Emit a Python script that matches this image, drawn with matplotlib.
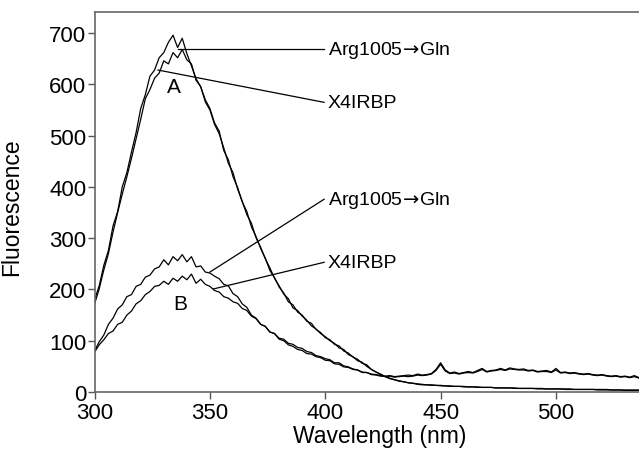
import numpy as np
import matplotlib
matplotlib.use("Agg")
import matplotlib.pyplot as plt

plt.rcParams['font.family'] = ['Liberation Sans', 'DejaVu Sans']

# wavelength grid (nm), 2 nm steps
wavelength = np.arange(300, 537, 2)

# curve A, Arg1005->Gln
a_arg = [180, 207, 247, 276, 324, 352, 400, 428, 468, 506,
         553, 580, 616, 628, 652, 662, 682, 696, 672, 690,
         660, 636, 611, 595, 570, 553, 525, 509, 471, 453,
         420, 399, 371, 352, 322, 303, 280, 261, 237, 223,
         205, 193, 176, 170, 156, 150, 138, 134, 122, 116,
         106, 102, 93, 90, 80, 76, 68, 64, 56, 53,
         44, 39, 34, 30, 27, 24, 22, 20, 18, 17,
         15, 14, 14, 13, 13, 12, 12, 11, 11, 11,
         10, 10, 10, 9, 9, 9, 9, 8, 8, 8,
         8, 8, 7, 7, 7, 7, 7, 7, 6, 6,
         6, 6, 6, 6, 5, 5, 5, 5, 5, 5,
         5, 5, 4, 4, 4, 4, 4, 4, 4]

# curve A, X4IRBP
a_x4 = [172, 201, 238, 270, 312, 350, 386, 420, 456, 494,
        532, 572, 590, 612, 622, 646, 640, 662, 652, 668,
        648, 640, 608, 596, 566, 550, 522, 504, 476, 446,
        428, 396, 372, 346, 329, 301, 282, 260, 242, 222,
        207, 191, 182, 164, 159, 148, 140, 129, 123, 114,
        108, 100, 95, 86, 83, 73, 69, 61, 58, 50,
        44, 39, 35, 30, 26, 24, 21, 20, 18, 17,
        16, 15, 14, 14, 13, 13, 12, 12, 11, 11,
        11, 10, 10, 10, 9, 9, 9, 8, 8, 8,
        8, 7, 7, 7, 7, 7, 6, 6, 6, 6,
        6, 6, 5, 5, 5, 5, 5, 5, 5, 4,
        4, 4, 4, 4, 4, 3, 3, 3, 3]

# curve B, Arg1005->Gln
b_arg = [80, 98, 111, 132, 144, 162, 170, 186, 190, 206,
         210, 224, 228, 240, 244, 258, 248, 264, 256, 268,
         254, 264, 244, 246, 234, 232, 226, 221, 210, 207,
         192, 186, 172, 165, 150, 144, 132, 128, 117, 114,
         105, 103, 95, 93, 87, 85, 79, 77, 71, 69,
         65, 63, 57, 57, 51, 49, 45, 43, 39, 38,
         34, 33, 31, 31, 32, 30, 31, 32, 33, 32,
         35, 33, 34, 36, 44, 57, 43, 37, 39, 36,
         38, 40, 38, 42, 46, 40, 42, 43, 46, 43,
         47, 45, 44, 45, 42, 43, 40, 41, 42, 39,
         46, 38, 39, 37, 38, 36, 35, 36, 34, 33,
         34, 32, 31, 32, 30, 31, 29, 32, 28]

# curve B, X4IRBP
b_x4 = [78, 92, 102, 114, 119, 132, 136, 150, 158, 172,
        178, 190, 196, 206, 208, 216, 210, 222, 216, 226,
        219, 230, 212, 220, 210, 206, 198, 195, 186, 183,
        176, 173, 163, 159, 148, 143, 132, 128, 117, 114,
        103, 100, 92, 89, 83, 81, 75, 74, 69, 67,
        62, 61, 55, 54, 49, 48, 44, 43, 38, 38,
        35, 34, 32, 30, 31, 29, 30, 31, 30, 31,
        33, 32, 33, 35, 42, 54, 41, 36, 37, 35,
        37, 38, 37, 40, 44, 39, 41, 42, 44, 42,
        45, 44, 43, 43, 41, 42, 39, 40, 40, 38,
        43, 37, 38, 36, 37, 35, 34, 35, 33, 32,
        33, 31, 30, 31, 29, 30, 28, 30, 27]

fig = plt.figure(figsize=(6.39, 4.52), dpi=100)
ax = fig.add_axes([0.148, 0.1305, 0.852, 0.8405])

for series in (a_arg, a_x4, b_arg, b_x4):
    ax.plot(wavelength, series, color='black', lw=0.9)

ax.set_xlim(300, 536)
ax.set_ylim(0, 741)
ax.set_xticks([300, 350, 400, 450, 500])
ax.set_yticks(range(0, 701, 100))
ax.tick_params(labelsize=16, length=5, width=1, color='#555555')
ax.tick_params(axis='x', pad=2)
ax.tick_params(axis='y', pad=1)

for side in ('left', 'bottom', 'top'):
    ax.spines[side].set_color('#666666')
    ax.spines[side].set_linewidth(1.2)
ax.spines['right'].set_visible(False)

ax.set_xlabel('Wavelength (nm)', fontsize=16.5)
ax.xaxis.set_label_coords(0.524, -0.085)
ax.set_ylabel('Fluorescence', fontsize=16.5)
ax.yaxis.set_label_coords(-0.131, 0.49)

# labels with leader lines: (text, text xy, curve xy)
arg_label = 'Arg1005$\\!\\rightarrow\\!$Gln'
labels = [
    (arg_label, (401, 669), (336, 669)),
    ('X4IRBP', (401, 565), (327.5, 628)),
    (arg_label, (401, 376), (350, 234)),
    ('X4IRBP', (401, 253), (351.5, 201)),
]
for text, (tx, ty), (cx, cy) in labels:
    ax.plot([cx, tx - 1.5], [cy, ty], color='black', lw=0.9)
    ax.text(tx, ty, text, fontsize=14, ha='left', va='center')

ax.text(334.5, 595, 'A', fontsize=15, ha='center', va='center')
ax.text(337, 172, 'B', fontsize=15, ha='center', va='center')

fig.savefig('out.png', dpi=100)
